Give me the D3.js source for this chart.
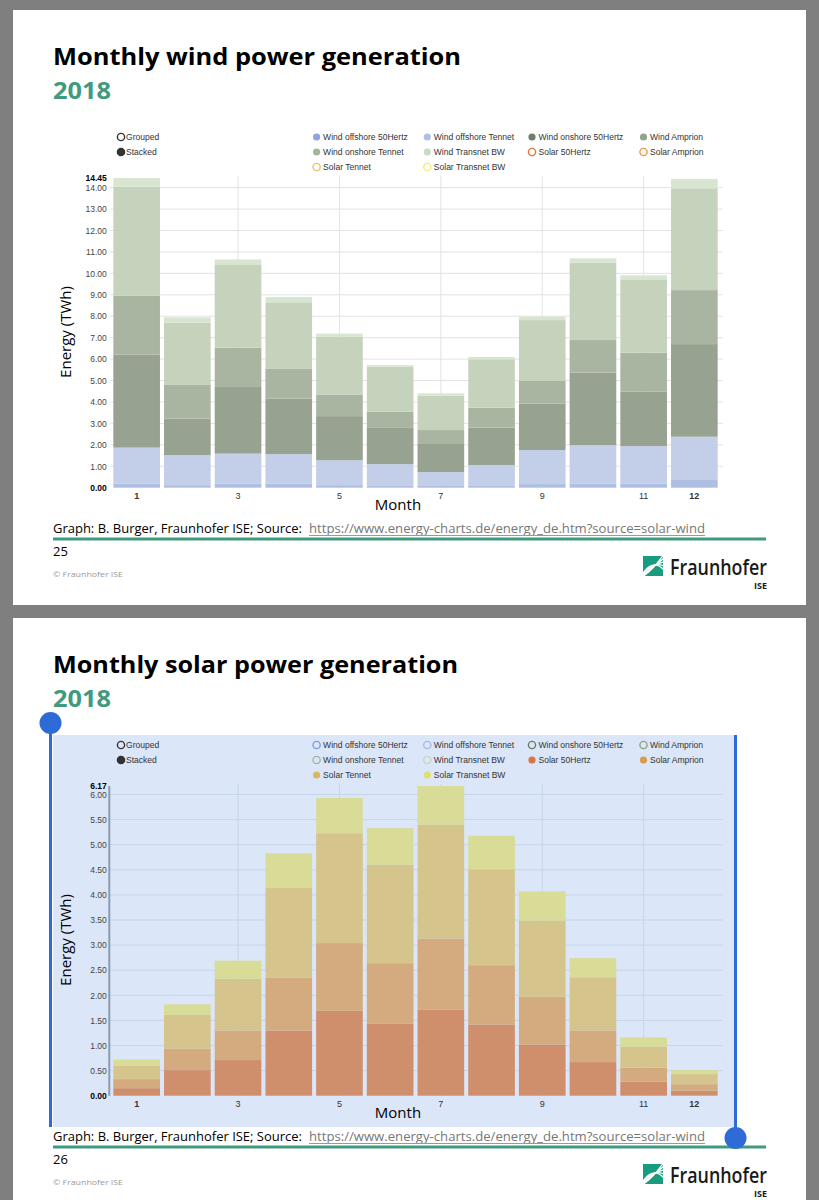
<!DOCTYPE html>
<html><head><meta charset="utf-8">
<script src="https://cdn.jsdelivr.net/npm/d3@7"></script>
<style>body{margin:0;background:#7f7f7f;}svg{display:block}</style>
</head><body><svg id="c" width="819" height="1200"></svg>
<script>
// ---------------- DATA ----------------
const months = [1,2,3,4,5,6,7,8,9,10,11,12];
const monthTicks = [1,3,5,7,9,11,12];
const monthGridTicks = [3,5,7,9,11];
const modeLabels = ["Grouped","Stacked"];
const seriesNames = ["Wind offshore 50Hertz","Wind offshore Tennet","Wind onshore 50Hertz","Wind Amprion",
  "Wind onshore Tennet","Wind Transnet BW","Solar 50Hertz","Solar Amprion","Solar Tennet","Solar Transnet BW"];

// Wind (TWh)
const windOffshore50Hertz = [0.20,0.12,0.20,0.20,0.12,0.11,0.08,0.11,0.17,0.20,0.20,0.36];
const windOffshoreTennet  = [1.67,1.40,1.39,1.37,1.16,0.99,0.65,0.95,1.59,1.78,1.74,2.02];
const windOnshore50Hertz  = [4.35,1.71,3.11,2.58,2.06,1.69,1.31,1.74,2.16,3.39,2.54,4.32];
const windAmprion         = [2.74,1.59,1.83,1.39,1.01,0.75,0.65,0.93,1.06,1.52,1.82,2.52];
const windOnshoreTennet   = [5.08,2.88,3.86,3.11,2.70,2.11,1.60,2.26,2.84,3.61,3.39,4.75];
const windTransnetBW      = [0.41,0.25,0.26,0.25,0.14,0.07,0.11,0.11,0.16,0.20,0.22,0.43];
// Solar (TWh)
const solar50Hertz   = [0.15,0.51,0.71,1.30,1.69,1.44,1.71,1.42,1.02,0.67,0.28,0.10];
const solarAmprion   = [0.18,0.43,0.59,1.05,1.35,1.20,1.42,1.18,0.95,0.63,0.28,0.13];
const solarTennet    = [0.27,0.67,1.03,1.80,2.19,1.96,2.27,1.91,1.52,1.06,0.42,0.20];
const solarTransnetBW= [0.12,0.21,0.36,0.68,0.70,0.73,0.77,0.67,0.58,0.38,0.18,0.08];

const windYMax = 14.45;
const windYTicks = [0,1,2,3,4,5,6,7,8,9,10,11,12,13,14];
const solarYMax = 6.17;
const solarYTicks = [0,0.5,1,1.5,2,2.5,3,3.5,4,4.5,5,5.5,6];

// ---------------- DRAW ----------------
const svg = d3.select("#c");
svg.append("rect").attr("width",819).attr("height",1200).attr("fill","#7f7f7f");

const SLIDE_FONT = "'Open Sans','Noto Sans',sans-serif";
const CHART_FONT = "'Liberation Sans',Arial,sans-serif";
const GREEN = "#3f9a7f";

function drawSlide(top, height, cfg) {
  const g = svg.append("g").attr("transform", `translate(0,${top})`);
  g.append("rect").attr("x",13).attr("y",0).attr("width",793).attr("height",height).attr("fill","#fff");

  if (cfg.selected) {
    g.append("rect").attr("x",53).attr("y",117).attr("width",681).attr("height",392).attr("fill","#dbe7f9");
  }

  // titles
  g.append("text").attr("x",53).attr("y",55).attr("font-family",SLIDE_FONT).attr("font-weight",700)
    .attr("font-size",24).attr("fill","#000").attr("textLength",cfg.titleLen).attr("lengthAdjust","spacingAndGlyphs").text(cfg.title);
  g.append("text").attr("x",53).attr("y",89).attr("font-family",SLIDE_FONT).attr("font-weight",700)
    .attr("font-size",24).attr("fill",GREEN).attr("textLength",58).attr("lengthAdjust","spacingAndGlyphs").text("2018");

  // legend: mode
  modeLabels.forEach((m,i) => {
    const yy = 127 + i*15;
    g.append("circle").attr("cx",121).attr("cy",yy).attr("r",3.6)
      .attr("fill", i===1 ? "#333" : "none").attr("stroke","#333").attr("stroke-width",1.4);
    g.append("text").attr("transform",`translate(126,${yy}) scale(0.9,1)`).attr("dominant-baseline","central")
      .attr("font-family",CHART_FONT).attr("font-size",9.5).attr("fill","#333").text(m);
  });
  // legend: series
  const colX = [316.6, 427.3, 532, 643.5];
  seriesNames.forEach((s,i) => {
    const cx = colX[i%4], yy = 127 + Math.floor(i/4)*15;
    const st = cfg.legendStyle[i];
    g.append("circle").attr("cx",cx).attr("cy",yy).attr("r",3.6)
      .attr("fill", st.filled ? st.color : "none").attr("stroke", st.color).attr("stroke-width", st.filled?0:1.4);
    g.append("text").attr("transform",`translate(${cx+6.5},${yy}) scale(0.9,1)`).attr("dominant-baseline","central")
      .attr("font-family",CHART_FONT).attr("font-size",9.5).attr("fill","#333").text(s);
  });

  // chart
  const x = d3.scaleBand().domain(months).range([111.3,719.7]).paddingInner(0.08).paddingOuter(0.04);
  const y = d3.scaleLinear().domain([0,cfg.yMax]).range([477.7,168]);

  g.append("g").selectAll("line").data(cfg.yTicks.filter(d=>d>0)).join("line")
    .attr("x1",110).attr("x2",723).attr("y1",d=>y(d)).attr("y2",d=>y(d))
    .attr("stroke",cfg.gridColor).attr("stroke-width",1);
  g.append("g").selectAll("line").data(monthGridTicks).join("line")
    .attr("x1",d=>x(d)+x.bandwidth()/2).attr("x2",d=>x(d)+x.bandwidth()/2)
    .attr("y1",166).attr("y2",477.7).attr("stroke",cfg.gridColor).attr("stroke-width",1);

  const rows = months.map((m,i) => {
    const r = {month:m};
    cfg.series.forEach((s,k) => r["s"+k] = s[i]);
    return r;
  });
  const keys = cfg.series.map((s,k)=>"s"+k);
  const stacked = d3.stack().keys(keys)(rows);
  g.append("g").selectAll("g").data(stacked).join("g").attr("fill",(d,k)=>cfg.barColors[k])
    .selectAll("rect").data(d=>d).join("rect")
    .attr("x",d=>x(d.data.month)).attr("width",x.bandwidth())
    .attr("y",d=>y(d[1])).attr("height",d=>y(d[0])-y(d[1]));

  if (cfg.axisLine) {
    g.append("line").attr("x1",109.3).attr("x2",109.3).attr("y1",y(cfg.yMax)).attr("y2",477.7)
      .attr("stroke","#8d9bb0").attr("stroke-width",2);
  }

  // y axis labels
  const fmt = d3.format(".2f");
  const ya = g.append("g").attr("transform","translate(110,0)")
    .call(d3.axisLeft(y).tickValues(cfg.yTicks.concat([cfg.yMax])).tickSize(0).tickPadding(3.3).tickFormat(fmt));
  ya.select(".domain").remove();
  ya.selectAll("text").attr("font-family",CHART_FONT).attr("font-size",8.5).attr("fill","#333")
    .attr("font-weight",d=>(d===0||d===cfg.yMax)?"bold":"normal")
    .attr("fill",d=>(d===0||d===cfg.yMax)?"#000":"#444");

  // x axis labels
  const xa = g.append("g").attr("transform","translate(0,477.7)")
    .call(d3.axisBottom(x).tickValues(monthTicks).tickSize(0).tickPadding(5));
  xa.select(".domain").remove();
  xa.selectAll("text").attr("font-family",CHART_FONT).attr("font-size",9).attr("fill","#333")
    .attr("font-weight",d=>(d===1||d===12)?"bold":"normal");

  // axis titles
  g.append("text").attr("transform","translate(71,322) rotate(-90)").attr("text-anchor","middle")
    .attr("font-family",SLIDE_FONT).attr("font-size",15).attr("fill","#000").text("Energy (TWh)");
  g.append("text").attr("x",398).attr("y",500).attr("text-anchor","middle")
    .attr("font-family",SLIDE_FONT).attr("font-size",15).attr("fill","#000").text("Month");

  // footer
  g.append("text").attr("x",53).attr("y",523).attr("font-family",SLIDE_FONT).attr("font-size",13).attr("fill","#000")
    .attr("textLength",249).attr("lengthAdjust","spacingAndGlyphs").text("Graph: B. Burger, Fraunhofer ISE; Source:");
  g.append("text").attr("x",309).attr("y",523).attr("font-family",SLIDE_FONT).attr("font-size",13).attr("fill","#777")
    .attr("textLength",396).attr("lengthAdjust","spacingAndGlyphs").text("https://www.energy-charts.de/energy_de.htm?source=solar-wind");
  g.append("line").attr("x1",309).attr("x2",705).attr("y1",525.5).attr("y2",525.5).attr("stroke","#999").attr("stroke-width",1);
  g.append("line").attr("x1",53).attr("x2",766).attr("y1",529).attr("y2",529).attr("stroke",GREEN).attr("stroke-width",3);
  g.append("text").attr("x",53).attr("y",546).attr("font-family",SLIDE_FONT).attr("font-size",13).attr("fill","#000").text(cfg.page);
  g.append("text").attr("x",53).attr("y",567).attr("font-family",SLIDE_FONT).attr("font-size",8).attr("fill","#9a9a9a")
    .attr("textLength",70).attr("lengthAdjust","spacingAndGlyphs").text("© Fraunhofer ISE");

  // logo
  const clipId = "clip"+top;
  g.append("clipPath").attr("id",clipId).append("rect").attr("x",643).attr("y",546).attr("width",20).attr("height",20);
  const logo = g.append("g").attr("clip-path",`url(#${clipId})`);
  logo.append("rect").attr("x",643).attr("y",546).attr("width",20).attr("height",20).attr("fill","#179c7d");
  [[-2,6],[2,9],[6,12],[10,15],[14,17.5]].forEach(([a,b]) => {
    logo.append("path").attr("d",`M643,${566-a*0.2} Q653,${566-b} 664,${546+a}`).attr("fill","none")
      .attr("stroke","#fff").attr("stroke-width",1.3);
  });
  g.append("text").attr("x",670).attr("y",565).attr("font-family",SLIDE_FONT).attr("font-weight",600).attr("font-size",21)
    .attr("fill","#1a1a1a").attr("textLength",97).attr("lengthAdjust","spacingAndGlyphs").text("Fraunhofer");
  g.append("text").attr("x",767).attr("y",579).attr("text-anchor","end").attr("font-family",SLIDE_FONT).attr("font-weight",700)
    .attr("font-size",9).attr("fill","#1a1a1a").text("ISE");

  if (cfg.selected) {
    const B = "#2f6bd6";
    g.append("line").attr("x1",50.5).attr("x2",50.5).attr("y1",105).attr("y2",509).attr("stroke",B).attr("stroke-width",3);
    g.append("circle").attr("cx",50.5).attr("cy",105).attr("r",11).attr("fill",B);
    g.append("line").attr("x1",735.5).attr("x2",735.5).attr("y1",117).attr("y2",520).attr("stroke",B).attr("stroke-width",3);
    g.append("circle").attr("cx",735.5).attr("cy",520).attr("r",11).attr("fill",B);
  }
}

drawSlide(10, 595, {
  title: "Monthly wind power generation", titleLen: 408, page: "25",
  yMax: windYMax, yTicks: windYTicks, gridColor: "#e3e3e3", axisLine: false,
  series: [windOffshore50Hertz, windOffshoreTennet, windOnshore50Hertz, windAmprion, windOnshoreTennet, windTransnetBW],
  barColors: ["#aebfe3","#c3cfe8","#98a290","#aab5a1","#c5d3bd","#d8e5d1"],
  legendStyle: [
    {color:"#8ea6dd",filled:true},{color:"#afc0e8",filled:true},{color:"#6f7e6b",filled:true},{color:"#8fa48b",filled:true},
    {color:"#9fb79b",filled:true},{color:"#c8dbc6",filled:true},{color:"#e0773a",filled:false},{color:"#e89a48",filled:false},
    {color:"#e8c45a",filled:false},{color:"#eeee80",filled:false}]
});

drawSlide(618, 600, {
  title: "Monthly solar power generation", titleLen: 405, page: "26", selected: true,
  yMax: solarYMax, yTicks: solarYTicks, gridColor: "#c7d4e8", axisLine: true,
  series: [solar50Hertz, solarAmprion, solarTennet, solarTransnetBW],
  barColors: ["#cf8f6d","#d4aa7f","#d5c58d","#d8dc97"],
  legendStyle: [
    {color:"#7e9be0",filled:false},{color:"#a6b8e6",filled:false},{color:"#6d7a6a",filled:false},{color:"#8ea38c",filled:false},
    {color:"#a3b5a0",filled:false},{color:"#c6d4c4",filled:false},{color:"#d9763f",filled:true},{color:"#dc9950",filled:true},
    {color:"#d9b95e",filled:true},{color:"#dfdf6a",filled:true}]
});
</script></body></html>
